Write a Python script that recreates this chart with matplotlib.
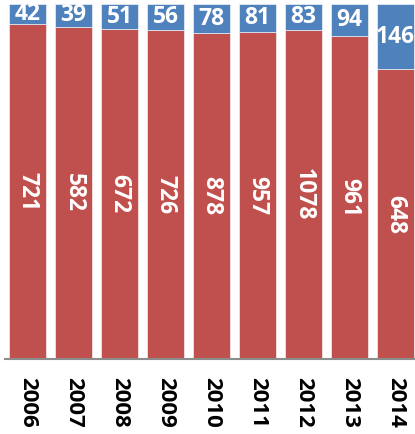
import matplotlib.pyplot as plt
import numpy as np

years = ["2006", "2007", "2008", "2009", "2010", "2011", "2012", "2013", "2014"]
red_vals = [721, 582, 672, 726, 878, 957, 1078, 961, 648]
blue_vals = [42, 39, 51, 56, 78, 81, 83, 94, 146]

plt.rcParams["font.family"] = ["Open Sans", "DejaVu Sans"]

red = np.array(red_vals, dtype=float)
blue = np.array(blue_vals, dtype=float)
total = red + blue
red_share = red / total
blue_share = blue / total
x = np.arange(len(years))

fig = plt.figure(figsize=(4.15, 4.34), dpi=100)
ax = fig.add_axes([5 / 415, 1 - 358.7 / 434, 1 - 5 / 415, (358.7 - 4.3) / 434])

ax.bar(x, red_share, width=0.8, color="#C0504D", edgecolor="white", linewidth=0.4)
ax.bar(x, blue_share, width=0.8, bottom=red_share, color="#4F81BD", edgecolor="white", linewidth=0.4)

for i in range(len(years)):
    ax.text(x[i], red_share[i] / 2, str(red_vals[i]), rotation=-90, ha="center", va="center",
            color="white", fontsize=16.5, fontweight="bold")
    ax.text(x[i], red_share[i] + blue_share[i] / 2, str(blue_vals[i]), ha="center", va="center",
            color="white", fontsize=16.5, fontweight="bold")

ax.set_xlim(-0.49, 8.42)
ax.set_ylim(0, 1)
ax.set_yticks([])
ax.set_xticks(x)
ax.set_xticklabels(years, rotation=-90, fontsize=16, fontweight="bold")
ax.tick_params(axis="x", length=0, pad=13)
for side in ["top", "right", "left"]:
    ax.spines[side].set_visible(False)
ax.spines["bottom"].set_color("#8c8c8c")
ax.spines["bottom"].set_linewidth(1.5)

fig.savefig("out.png", dpi=100)
